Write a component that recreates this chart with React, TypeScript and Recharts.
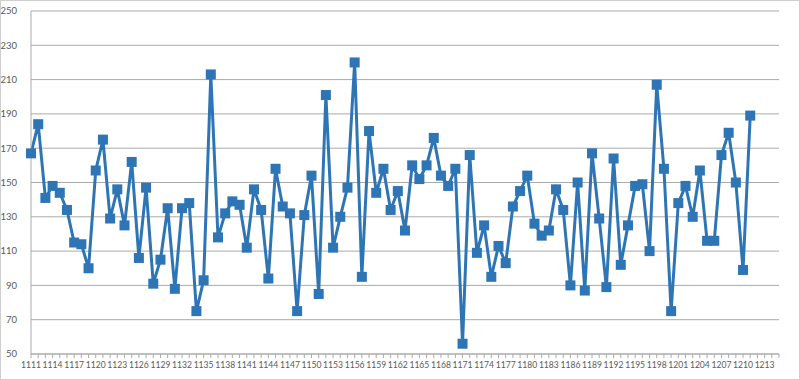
import { LineChart, Line, XAxis, YAxis, CartesianGrid } from 'recharts';

const categories = [
  '1111', '1112', '1113', '1114', '1115', '1116', '1117', '1118', '1119', '1120',
  '1121', '1122', '1123', '1124', '1125', '1126', '1127', '1128', '1129', '1130',
  '1131', '1132', '1133', '1134', '1135', '1136', '1137', '1138', '1139', '1140',
  '1141', '1142', '1143', '1144', '1145', '1146', '1147', '1148', '1149', '1150',
  '1151', '1152', '1153', '1154', '1155', '1156', '1157', '1158', '1159', '1160',
  '1161', '1162', '1163', '1164', '1165', '1166', '1167', '1168', '1169', '1170',
  '1171', '1172', '1173', '1174', '1175', '1176', '1177', '1178', '1179', '1180',
  '1181', '1182', '1183', '1184', '1185', '1186', '1187', '1188', '1189', '1190',
  '1191', '1192', '1193', '1194', '1195', '1196', '1197', '1198', '1199', '1200',
  '1201', '1202', '1203', '1204', '1205', '1206', '1207', '1208', '1209', '1210',
  '1211', '1212', '1213', '1214', '1215',
];

const values = [
  167, 184, 141, 148, 144, 134, 115, 114, 100, 157,
  175, 129, 146, 125, 162, 106, 147, 91, 105, 135,
  88, 135, 138, 75, 93, 213, 118, 132, 139, 137,
  112, 146, 134, 94, 158, 136, 132, 75, 131, 154,
  85, 201, 112, 130, 147, 220, 95, 180, 144, 158,
  134, 145, 122, 160, 152, 160, 176, 154, 148, 158,
  56, 166, 109, 125, 95, 113, 103, 136, 145, 154,
  126, 119, 122, 146, 134, 90, 150, 87, 167, 129,
  89, 164, 102, 125, 148, 149, 110, 207, 158, 75,
  138, 148, 130, 157, 116, 116, 166, 179, 150, 99,
  189,
];

const yTicks = [50, 70, 90, 110, 130, 150, 170, 190, 210, 230, 250];

const data = categories.map((c, i) => ({
  label: c,
  value: i < values.length ? values[i] : null,
}));

const FONT = 'Lato, "Open Sans", sans-serif';
const BLUE = '#2E75B6';
const GRID = '#ababab';

// labels only on every third category, tick marks on all of them
const XTick = (props: any) => {
  const { x, y, payload, index } = props;
  if (index % 3 !== 0) return null;
  return (
    <text x={x} y={y} dy="0.71em" textAnchor="middle" fontSize={8.6} fill="#595959" fontFamily={FONT}>
      {payload.value}
    </text>
  );
};

const SquareDot = (props: any) => {
  const { cx, cy, index } = props;
  if (cx == null || cy == null) return null;
  return <rect key={index} x={cx - 5} y={cy - 5} width={10} height={10} fill={BLUE} />;
};

export default function App() {
  return (
    <div
      style={{
        width: 800,
        height: 380,
        border: '1px solid #cfcfcf',
        boxSizing: 'border-box',
        background: '#fff',
      }}
    >
      <style>{'body{margin:0}'}</style>
      <LineChart width={798} height={378} data={data} margin={{ top: 10, right: 20, bottom: 5, left: 0 }}>
        <CartesianGrid vertical={false} stroke={GRID} />
        <XAxis
          dataKey="label"
          interval={0}
          height={20}
          tick={<XTick />}
          tickSize={4}
          tickMargin={4}
          tickLine={{ stroke: GRID }}
          axisLine={{ stroke: GRID }}
        />
        <YAxis
          width={30}
          domain={[50, 250]}
          ticks={yTicks}
          interval={0}
          tickLine={false}
          tickMargin={8}
          axisLine={{ stroke: GRID }}
          tick={{ fontSize: 9.5, fill: '#595959', fontFamily: FONT }}
        />
        <Line
          dataKey="value"
          stroke={BLUE}
          strokeWidth={3}
          dot={<SquareDot />}
          activeDot={false}
          isAnimationActive={false}
        />
      </LineChart>
    </div>
  );
}
